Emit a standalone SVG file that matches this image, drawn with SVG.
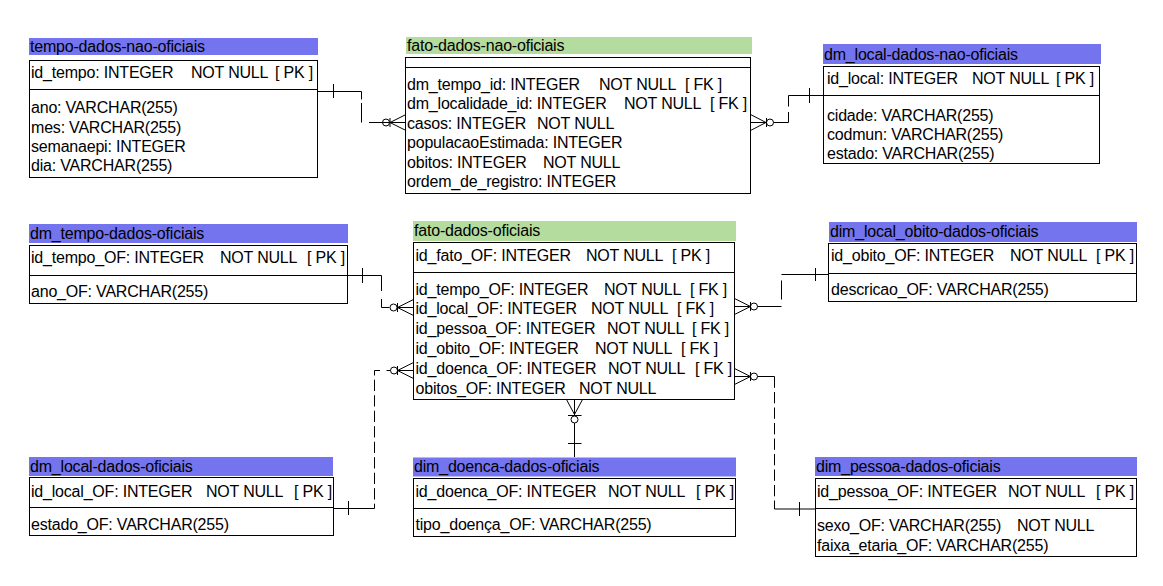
<svg xmlns="http://www.w3.org/2000/svg" width="1163" height="586" viewBox="0 0 1163 586">
<style>
.hb{fill:#7474ef}
.hg{fill:#b5dc9f}
.box{fill:#fff;stroke:#000;stroke-width:1}
.sep{stroke:#000;stroke-width:1}
text{font-family:"Liberation Sans",Arial,sans-serif;font-size:16px;letter-spacing:-0.2px;fill:#000;white-space:pre}
.c{fill:none;stroke:#000;stroke-width:1}
.d{stroke-dasharray:11.3 4.2}
</style>
<rect width="1163" height="586" fill="#fff"/>

<g id="t-tempo-nao">
<rect class="hb" x="29" y="38" width="289" height="17"/>
<text x="30" y="52">tempo-dados-nao-oficiais</text>
<rect class="box" x="29.5" y="60.5" width="288" height="117"/>
<line class="sep" x1="29.5" y1="89.5" x2="317.5" y2="89.5"/>
<text y="78"><tspan x="31">id_tempo: INTEGER</tspan><tspan x="191">NOT NULL</tspan><tspan x="275">[ PK ]</tspan></text>
<text x="31" y="113">ano: VARCHAR(255)</text>
<text x="31" y="132.5">mes: VARCHAR(255)</text>
<text x="31" y="152">semanaepi: INTEGER</text>
<text x="31" y="171">dia: VARCHAR(255)</text>
</g>

<g id="t-fato-nao">
<rect class="hg" x="406" y="37" width="346" height="17"/>
<text x="407" y="51">fato-dados-nao-oficiais</text>
<rect class="box" x="405.5" y="57.5" width="345" height="136"/>
<line class="sep" x1="405.5" y1="67.5" x2="750.5" y2="67.5"/>
<text y="89.5"><tspan x="407">dm_tempo_id: INTEGER</tspan><tspan x="599">NOT NULL</tspan><tspan x="685">[ FK ]</tspan></text>
<text y="109"><tspan x="407">dm_localidade_id: INTEGER</tspan><tspan x="624">NOT NULL</tspan><tspan x="710">[ FK ]</tspan></text>
<text y="128.5"><tspan x="407">casos: INTEGER</tspan><tspan x="537">NOT NULL</tspan></text>
<text x="407" y="148">populacaoEstimada: INTEGER</text>
<text y="167.5"><tspan x="407">obitos: INTEGER</tspan><tspan x="543">NOT NULL</tspan></text>
<text x="407" y="187">ordem_de_registro: INTEGER</text>
</g>

<g id="t-local-nao">
<rect class="hb" x="823" y="44" width="278" height="20"/>
<text x="824" y="60">dm_local-dados-nao-oficiais</text>
<rect class="box" x="823.5" y="66.5" width="276" height="97"/>
<line class="sep" x1="823.5" y1="95.5" x2="1099.5" y2="95.5"/>
<text y="84"><tspan x="827">id_local: INTEGER</tspan><tspan x="972">NOT NULL</tspan><tspan x="1056">[ PK ]</tspan></text>
<text x="827" y="120.5">cidade: VARCHAR(255)</text>
<text x="827" y="140">codmun: VARCHAR(255)</text>
<text x="827" y="159">estado: VARCHAR(255)</text>
</g>

<g id="t-tempo-of">
<rect class="hb" x="29" y="224" width="319" height="19"/>
<text x="30" y="238.5">dm_tempo-dados-oficiais</text>
<rect class="box" x="29.5" y="245.5" width="318" height="58"/>
<line class="sep" x1="29.5" y1="275.5" x2="347.5" y2="275.5"/>
<text y="263"><tspan x="31">id_tempo_OF: INTEGER</tspan><tspan x="220">NOT NULL</tspan><tspan x="307">[ PK ]</tspan></text>
<text x="31" y="297">ano_OF: VARCHAR(255)</text>
</g>

<g id="t-fato-of">
<rect class="hg" x="413" y="221" width="323" height="20"/>
<text x="414" y="236">fato-dados-oficiais</text>
<rect class="box" x="413.5" y="242.5" width="321" height="157"/>
<line class="sep" x1="413.5" y1="272.5" x2="734.5" y2="272.5"/>
<text y="261"><tspan x="415.5">id_fato_OF: INTEGER</tspan><tspan x="586">NOT NULL</tspan><tspan x="672">[ PK ]</tspan></text>
<text y="294.5"><tspan x="415.5">id_tempo_OF: INTEGER</tspan><tspan x="604">NOT NULL</tspan><tspan x="690">[ FK ]</tspan></text>
<text y="314.3"><tspan x="415.5">id_local_OF: INTEGER</tspan><tspan x="591">NOT NULL</tspan><tspan x="677">[ FK ]</tspan></text>
<text y="334.1"><tspan x="415.5">id_pessoa_OF: INTEGER</tspan><tspan x="607">NOT NULL</tspan><tspan x="692">[ FK ]</tspan></text>
<text y="353.9"><tspan x="415.5">id_obito_OF: INTEGER</tspan><tspan x="595">NOT NULL</tspan><tspan x="681">[ FK ]</tspan></text>
<text y="373.7"><tspan x="415.5">id_doenca_OF: INTEGER</tspan><tspan x="608">NOT NULL</tspan><tspan x="695">[ FK ]</tspan></text>
<text y="393.5"><tspan x="415.5">obitos_OF: INTEGER</tspan><tspan x="579">NOT NULL</tspan></text>
</g>

<g id="t-obito-of">
<rect class="hb" x="829" y="222" width="308" height="20"/>
<text x="830" y="237">dim_local_obito-dados-oficiais</text>
<rect class="box" x="828.5" y="243.5" width="308" height="58"/>
<line class="sep" x1="828.5" y1="273.5" x2="1136.5" y2="273.5"/>
<text y="261"><tspan x="831">id_obito_OF: INTEGER</tspan><tspan x="1010">NOT NULL</tspan><tspan x="1096">[ PK ]</tspan></text>
<text x="831" y="295">descricao_OF: VARCHAR(255)</text>
</g>

<g id="t-local-of">
<rect class="hb" x="29" y="457" width="304" height="19"/>
<text x="30" y="471.5">dm_local-dados-oficiais</text>
<rect class="box" x="29.5" y="477.5" width="304" height="58"/>
<line class="sep" x1="29.5" y1="507.5" x2="333.5" y2="507.5"/>
<text y="496.5"><tspan x="31">id_local_OF: INTEGER</tspan><tspan x="206">NOT NULL</tspan><tspan x="294">[ PK ]</tspan></text>
<text x="31" y="530">estado_OF: VARCHAR(255)</text>
</g>

<g id="t-doenca-of">
<rect class="hb" x="413" y="457.5" width="323" height="19"/>
<text x="414" y="472">dim_doenca-dados-oficiais</text>
<rect class="box" x="413.5" y="478.5" width="322" height="58"/>
<line class="sep" x1="413.5" y1="508.5" x2="735.5" y2="508.5"/>
<text y="497"><tspan x="415.5">id_doenca_OF: INTEGER</tspan><tspan x="608">NOT NULL</tspan><tspan x="696">[ PK ]</tspan></text>
<text x="415.5" y="530">tipo_doença_OF: VARCHAR(255)</text>
</g>

<g id="t-pessoa-of">
<rect class="hb" x="815" y="457" width="322" height="19"/>
<text x="816" y="471.5">dim_pessoa-dados-oficiais</text>
<rect class="box" x="815.5" y="478.5" width="321" height="78"/>
<line class="sep" x1="815.5" y1="508.5" x2="1136.5" y2="508.5"/>
<text y="497"><tspan x="817">id_pessoa_OF: INTEGER</tspan><tspan x="1008">NOT NULL</tspan><tspan x="1096">[ PK ]</tspan></text>
<text y="531"><tspan x="817">sexo_OF: VARCHAR(255)</tspan><tspan x="1017">NOT NULL</tspan></text>
<text x="817" y="551">faixa_etaria_OF: VARCHAR(255)</text>
</g>

<g id="connectors" class="c">
<!-- C1 tempo-nao -> fato-nao -->
<path d="M318,91.5H361.5V99.5M361.5,103V122.5M369,122.5H406M333.5,84V98"/>
<path d="M406,114.5L390,122.5L406,130.5M390,118V127"/>
<circle cx="386" cy="122.5" r="3.5"/>
<!-- C2 fato-nao -> local-nao -->
<path d="M823,95.5H788.5V106.5M788.5,112V122.5H773.5M809.5,88V103"/>
<path d="M750.5,114.5L766,122.5L750.5,130.5M750.5,122.5H766.5M766.5,118V127"/>
<circle cx="770" cy="122.5" r="3.5"/>
<!-- C3 tempo-of -> fato-of -->
<path d="M348,275.5H381.5V291M381.5,299V307.5H389.5M362.5,268V283"/>
<path d="M413.5,299.5L397.5,307.5L413.5,315.5M413.5,307.5H397M397.5,303V312"/>
<circle cx="393.5" cy="307.5" r="3.5"/>
<!-- C4 fato-of -> obito-of -->
<path d="M828.5,274.5H781.5M781.5,280.5V299.5M781.5,306.5H757.5M815.5,268V281"/>
<path d="M734.5,298.5L750.5,306.5L734.5,314.5M734.5,306.5H751M750.5,302V311"/>
<circle cx="754" cy="306.5" r="3.5"/>
<!-- C5 local-of -> fato-of -->
<path d="M334,508.5H374.5M348.5,501V515"/>
<path class="d" stroke-dashoffset="6.3" d="M374.5,370.5V508.5"/>
<path d="M374.5,370.5H380M386.5,370.5H390.5"/>
<path d="M413.5,362.5L397.5,370.5L413.5,378.5M413.5,370.5H397M397.5,366V375"/>
<circle cx="394" cy="370.5" r="3.5"/>
<!-- C6 fato-of -> pessoa-of -->
<path d="M757.5,376.5H774.5M774.5,509H815M799.5,502V516"/>
<path class="d" stroke-dashoffset="0" d="M774.5,376.5V509"/>
<path d="M734.5,368.5L750.5,376.5L734.5,384.5M734.5,376.5H751M750.5,372V381"/>
<circle cx="754" cy="376.5" r="3.5"/>
<!-- C7 fato-of -> doenca-of -->
<path d="M574.5,423V457M568,443.5H581.5"/>
<path d="M566.5,399.5L574.5,414.5L582.5,399.5M574.5,399.5V415M568,415.5H581.5"/>
<circle cx="574.5" cy="419.5" r="3.5"/>
</g>
</svg>
